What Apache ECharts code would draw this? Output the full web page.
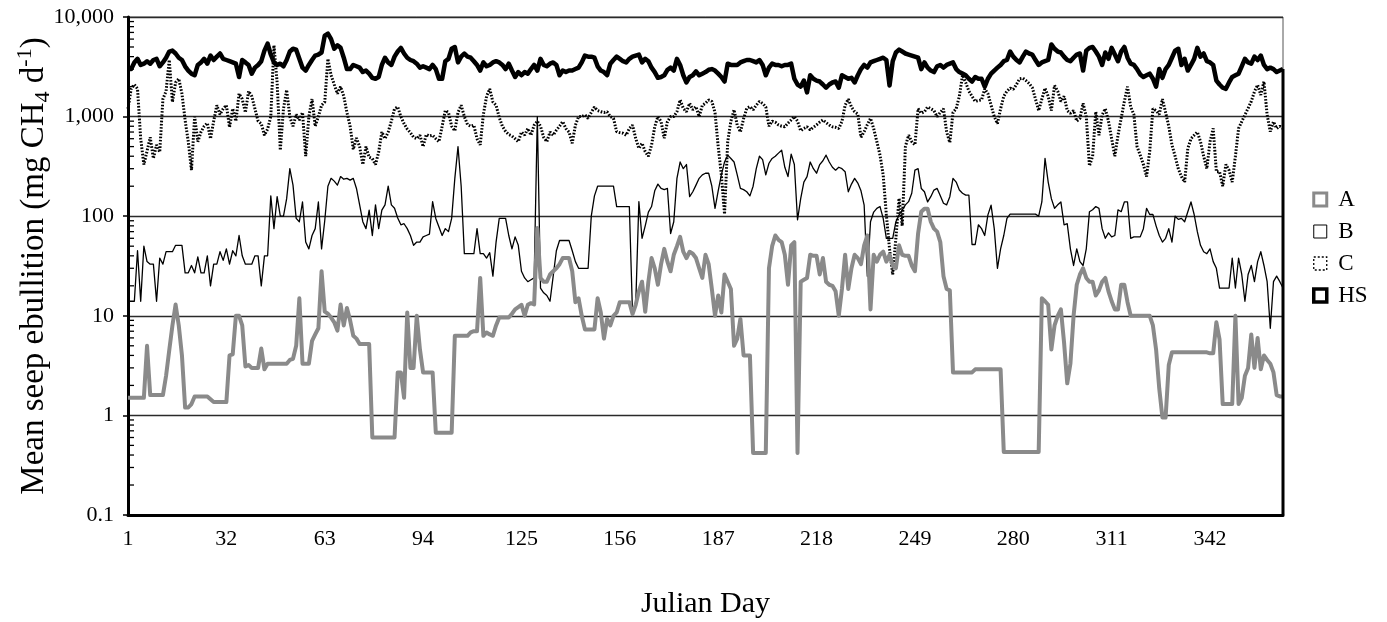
<!DOCTYPE html>
<html>
<head>
<meta charset="utf-8">
<script src="https://cdn.jsdelivr.net/npm/echarts@6/dist/echarts.min.js"></script>
<style>
  html, body { margin: 0; padding: 0; background: #fff; }
  #chart { width: 1387px; height: 622px; }
</style>
</head>
<body>
<div id="chart"></div>
<script>
// Daily mean seep ebullition (mg CH4 per day) for Julian days 1..365
const firstDay = 1;
const lastDay = 365;
const xTickDays = [1, 32, 63, 94, 125, 156, 187, 218, 249, 280, 311, 342];
const yTickLabels = ['0.1', '1', '10', '100', '1,000', '10,000'];
const minorTickValues = [
  0.2, 0.3, 0.4, 0.5, 0.6, 0.7, 0.8, 0.9,
  2, 3, 4, 5, 6, 7, 8, 9,
  20, 30, 40, 50, 60, 70, 80, 90,
  200, 300, 400, 500, 600, 700, 800, 900,
  2000, 3000, 4000, 5000, 6000, 7000, 8000, 9000
];
const seriesNames = ['A', 'B', 'C', 'HS'];

const seriesA = [
  1.5, 1.5, 1.5, 1.5, 1.5, 1.5, 5.0, 1.6, 1.6, 1.6,
  1.6, 1.6, 2.5, 4.5, 8, 13, 8, 4, 1.2, 1.2,
  1.3, 1.55, 1.55, 1.55, 1.55, 1.55, 1.45, 1.36, 1.36, 1.36,
  1.36, 1.36, 4.0, 4.1, 10, 10, 8, 3.1, 3.2, 3.0,
  3.0, 3.0, 4.7, 2.9, 3.3, 3.3, 3.3, 3.3, 3.3, 3.3,
  3.3, 3.6, 3.7, 5, 15, 3.3, 3.3, 3.3, 5.6, 6.5,
  7.5, 28, 11, 10.5, 9.6, 8.6, 7.1, 13, 8, 12,
  9, 6.3, 5.9, 5.2, 5.2, 5.2, 5.2, 0.6, 0.6, 0.6,
  0.6, 0.6, 0.6, 0.6, 0.6, 2.7, 2.7, 1.5, 10.8, 3.0,
  3.0, 10, 4.6, 2.7, 2.7, 2.7, 2.7, 0.67, 0.67, 0.67,
  0.67, 0.67, 0.67, 6.3, 6.3, 6.3, 6.3, 6.3, 6.8, 7,
  7, 24, 6.3, 6.8, 6.5, 6.3, 8, 9.6, 9.6, 9.6,
  9.6, 10.5, 11.6, 12.2, 12.9, 10, 12.9, 13.4, 13, 76,
  24, 22, 22, 26, 28, 30, 33, 38, 38, 38,
  28, 13.7, 15, 10, 7.3, 7.3, 7.3, 7.3, 15, 10.8,
  5.9, 9.3, 8, 10, 10.8, 13.7, 13.7, 13.7, 13.7, 10.4,
  12.9, 17.6, 22, 11, 22, 38, 30, 20.5, 33, 47,
  35, 28, 41, 50, 62, 44, 38, 44, 42, 38,
  30, 24, 41, 33, 18.6, 10, 16, 10.8, 26, 22,
  18.6, 5, 5.9, 9.3, 4, 4, 4, 0.42, 0.42, 0.42,
  0.42, 0.42, 30, 50, 64, 58, 55, 41, 20.5, 51,
  55, 0.42, 22, 23, 24, 41, 40, 40, 26, 38,
  22, 20.5, 20, 17.6, 10, 18.6, 41, 18.6, 30, 41,
  38, 33, 51, 64, 11.6, 41, 35, 41, 44, 35,
  41, 32, 30, 51, 41, 40, 40, 32, 28, 67,
  111, 119, 119, 88, 75, 70, 55, 25, 18.6, 18,
  2.7, 2.7, 2.7, 2.7, 2.7, 2.7, 2.7, 2.9, 2.9, 2.9,
  2.9, 2.9, 2.9, 2.9, 2.9, 2.9, 0.43, 0.43, 0.43, 0.43,
  0.43, 0.43, 0.43, 0.43, 0.43, 0.43, 0.43, 0.43, 15, 14,
  12.9, 4.6, 8, 10, 11.6, 5.4, 2.1, 3.3, 10, 20.5,
  26, 30, 24, 22, 22, 16, 18, 22, 24, 17.6,
  14, 11.6, 11.6, 20.5, 20.5, 13.7, 10, 10, 10, 10,
  10, 10, 10, 8, 4.6, 1.86, 0.95, 0.95, 3.2, 4.3,
  4.3, 4.3, 4.3, 4.3, 4.3, 4.3, 4.3, 4.3, 4.3, 4.3,
  4.3, 4.2, 4.2, 8.6, 5.8, 1.3, 1.3, 1.3, 1.3, 10,
  1.3, 1.5, 2.5, 3.0, 6.5, 3.0, 6, 2.9, 4, 3.6,
  3.3, 2.7, 1.6, 1.55, 1.55
];

const seriesB = [
  14, 14, 14, 45, 14, 50, 35, 33, 33, 14,
  38, 33, 44, 44, 44, 51, 51, 51, 27, 27,
  32, 27, 39, 27, 27, 40, 20, 33, 33, 44,
  36, 47, 33, 45, 40, 64, 40, 33, 33, 33,
  40, 40, 20, 40, 40, 160, 75, 157, 100, 100,
  150, 300, 205, 95, 88, 139, 55, 47, 64, 75,
  139, 47, 90, 200, 240, 225, 205, 250, 235, 240,
  230, 240, 190, 130, 88, 75, 115, 64, 130, 75,
  115, 130, 200, 130, 120, 96, 82, 84, 75, 64,
  51, 55, 55, 62, 64, 66, 140, 95, 78, 64,
  75, 70, 95, 240, 500, 200, 42, 42, 42, 42,
  75, 42, 42, 38, 43, 25, 55, 95, 95, 95,
  64, 47, 62, 51, 28, 24, 22, 23, 24, 1000,
  19, 17, 16, 14, 25, 45, 57, 57, 57, 57,
  45, 35, 30, 30, 30, 30, 100, 160, 200, 200,
  200, 200, 200, 200, 125, 125, 125, 125, 125, 10.5,
  12.6, 140, 60, 80, 110, 125, 180, 210, 190, 185,
  190, 67, 88, 240, 350, 300, 330, 157, 176, 205,
  240, 260, 270, 270, 200, 120, 180, 260, 350, 410,
  380, 350, 260, 190, 185, 176, 160, 200, 300, 400,
  370, 260, 340, 380, 400, 430, 460, 310, 250, 420,
  330, 92, 150, 220, 250, 350, 300, 270, 330, 360,
  410, 350, 310, 290, 310, 300, 280, 176, 210, 240,
  215, 180, 129, 25, 88, 110, 120, 125, 95, 60,
  60, 60, 88, 103, 115, 130, 140, 170, 290, 300,
  190, 176, 139, 157, 183, 190, 160, 135, 130, 157,
  240, 220, 183, 170, 163, 163, 52, 52, 82, 75,
  64, 103, 129, 75, 30, 47, 64, 95, 105, 105,
  105, 105, 105, 105, 105, 105, 105, 100, 139, 380,
  220, 150, 120, 130, 139, 82, 84, 47, 32, 47,
  35, 32, 47, 111, 116, 125, 120, 75, 60, 68,
  62, 64, 116, 111, 139, 139, 60, 62, 62, 62,
  75, 120, 104, 104, 80, 64, 55, 60, 75, 55,
  100, 93, 95, 88, 111, 139, 104, 70, 51, 44,
  42, 47, 35, 30, 19, 19, 19, 19, 38, 19,
  38, 26, 14, 26, 32, 22, 35, 44, 32, 22,
  7.5, 22, 25, 22, 19
];

const seriesC = [
  1200, 1900, 2100, 1900, 600, 330, 450, 620, 380, 520,
  440, 1500, 1800, 3700, 1400, 2200, 2400, 1700, 920, 560,
  290, 1000, 560, 700, 800, 860, 600, 900, 1300, 1050,
  1200, 1300, 780, 1200, 900, 1700, 1500, 1100, 1800, 1600,
  1200, 900, 850, 650, 750, 1000, 5200, 2200, 460, 1200,
  1850, 1000, 800, 1050, 920, 1100, 400, 1000, 1500, 800,
  1000, 1300, 1400, 3800, 2600, 2100, 1700, 2000, 1600, 1100,
  800, 470, 610, 500, 330, 500, 390, 380, 330, 440,
  700, 600, 700, 900, 1200, 1250, 1000, 850, 750, 690,
  620, 600, 650, 500, 660, 640, 650, 600, 560, 800,
  1150, 1100, 800, 720, 1100, 1300, 1000, 830, 800, 820,
  600, 520, 1050, 1600, 1900, 1400, 1300, 980, 800, 710,
  660, 640, 600, 560, 700, 650, 760, 650, 820, 900,
  800, 620, 560, 700, 650, 730, 800, 890, 760, 700,
  540, 820, 1000, 1000, 1040, 960, 1100, 1250, 1150, 1120,
  1100, 1120, 1000, 960, 706, 690, 680, 650, 760, 820,
  605, 480, 540, 445, 400, 518, 790, 1000, 890, 605,
  890, 1000, 1000, 1120, 1470, 1210, 1120, 1360, 1170, 1260,
  1000, 1300, 1360, 1470, 1420, 1100, 500, 260, 105, 560,
  900, 1170, 820, 700, 950, 1210, 1260, 1170, 1300, 1420,
  1360, 1250, 800, 900, 880, 824, 800, 790, 860, 925,
  1000, 900, 720, 760, 790, 735, 780, 824, 880, 925,
  870, 824, 790, 780, 760, 890, 1300, 1500, 1250, 1120,
  1060, 620, 706, 830, 960, 760, 560, 410, 258, 103,
  47, 26, 60, 151, 80, 500, 650, 560, 520, 1200,
  1080, 1120, 1250, 1200, 1150, 1000, 1100, 1200, 700, 550,
  1100, 1200, 1600, 2600, 2200, 1800, 1600, 1420, 1450, 1470,
  1900, 1700, 1300, 1000, 850, 1200, 1600, 1800, 1930, 1880,
  2100, 2400, 2430, 2300, 2150, 1950, 1500, 1150, 1500, 1930,
  1600, 1150, 2050, 1800, 1420, 1600, 1150, 1080, 1150, 900,
  960, 1360, 1000, 320, 400, 1120, 650, 1040, 1200, 900,
  600, 400, 650, 960, 1420, 2000, 1250, 1050, 500, 410,
  330, 250, 450, 1200, 1150, 1050, 1500, 1100, 800, 520,
  400, 300, 250, 220, 480, 600, 650, 700, 560, 400,
  300, 560, 760, 280, 280, 200, 330, 290, 220, 400,
  760, 890, 1040, 1210, 1420, 1780, 2080, 1650, 2250, 1040,
  706, 890, 760, 800, 760
];

const seriesHS = [
  3000, 3000, 3500, 3800, 3300, 3400, 3600, 3400, 3700, 3800,
  3200, 3500, 3900, 4500, 4600, 4300, 3900, 3700, 3200, 2900,
  2700, 2600, 3300, 3500, 3800, 3400, 4100, 3700, 4000, 4300,
  3800, 3700, 3600, 3500, 3400, 2500, 3700, 3500, 3300, 2700,
  3100, 3300, 3600, 4600, 5400, 4200, 3500, 3300, 3400, 3200,
  3700, 4500, 4800, 4700, 3800, 3100, 2900, 3300, 3700, 4100,
  4200, 4400, 6500, 6800, 6000, 4800, 5200, 4900, 3900, 3000,
  3000, 3300, 3200, 3100, 2800, 2900, 2700, 2450, 2400, 2500,
  3300, 3900, 3500, 3300, 4000, 4500, 4900, 4300, 3900, 3700,
  3600, 3400, 3100, 3200, 3100, 3000, 3300, 3000, 2400, 2400,
  3600, 3800, 4800, 5000, 3500, 4000, 4300, 4000, 3900, 3600,
  3300, 2900, 3500, 3200, 3300, 3500, 3600, 3500, 3300, 3000,
  3400, 2900, 2500, 2800, 2600, 2800, 2700, 3000, 3300, 2900,
  3800, 3300, 3200, 3400, 3500, 3300, 2600, 2900, 2800, 2900,
  2900, 3000, 3100, 3500, 4100, 4000, 4000, 3900, 3200, 2900,
  2800, 2600, 3400, 3700, 4000, 3800, 3600, 3500, 3800, 4000,
  4100, 4200, 3500, 3800, 3600, 3100, 2800, 2450, 2500, 2600,
  2950, 3100, 2900, 3800, 3300, 2600, 2200, 2500, 2600, 2850,
  2600, 2700, 2800, 2950, 3000, 2900, 2700, 2500, 2250, 3400,
  3300, 3300, 3300, 3500, 3600, 3700, 3700, 3600, 3500, 3700,
  3300, 2600, 3100, 3400, 3300, 3300, 3200, 3300, 3300, 3400,
  2400, 2100, 2000, 2300, 1750, 2600, 2400, 2300, 2250, 2100,
  1950, 2100, 2200, 2250, 1950, 2600, 2500, 2400, 2450, 2200,
  2600, 3000, 3300, 3100, 3500, 3600, 3700, 3800, 3900, 3700,
  2050, 3600, 4400, 4700, 4500, 4300, 4200, 4100, 4000, 3900,
  3000, 3500, 3100, 2900, 2800, 3200, 3300, 3100, 3300, 3400,
  3500, 3000, 2800, 2700, 2600, 2400, 2250, 2500, 2400, 2400,
  2000, 2400, 2700, 2900, 3100, 3300, 3600, 3700, 4500, 4000,
  3700, 3500, 4000, 4500, 4300, 4200, 3700, 3300, 3500, 3600,
  3700, 5300, 4800, 4500, 4400, 4000, 3700, 3600, 3900, 4200,
  4300, 2900, 4600, 4900, 5000, 4500, 4000, 3300, 4400, 3800,
  4900, 4200, 3600, 4500, 5000, 3900, 3400, 3300, 3000, 2650,
  2500, 2600, 2700, 2400, 2000, 3000, 2450, 3000, 3300, 3900,
  4600, 4800, 3300, 3800, 2900, 3300, 3800, 4900, 4000, 4300,
  3600, 3500, 3300, 2300, 2100, 1950, 1900, 2200, 2500, 2600,
  2700, 3200, 3800, 3500, 3400, 4000, 3700, 4100, 3300, 3000,
  3100, 3000, 2800, 2900, 3000
];

const serif = 'Liberation Serif';
const days = [];
for (let d = firstDay; d <= lastDay; d++) days.push(d);
const pairs = (values) => values.map((v, i) => [days[i], v]);

const chart = echarts.init(document.getElementById('chart'), null, { renderer: 'canvas' });

// square legend swatch, kept square inside a wider legend slot
const swatch = 'path://M0,0L10,0L10,10L0,10Z';

const option = {
  animation: false,
  backgroundColor: '#fff',
  grid: {
    left: 128, right: 104, top: 17, bottom: 107,
    outerBoundsMode: 'none', containLabel: false,
    show: true, borderColor: '#555', borderWidth: 1, backgroundColor: 'transparent'
  },
  legend: {
    orient: 'vertical',
    left: 1307, top: 183,
    itemWidth: 26, itemHeight: 13, itemGap: 9,
    selectedMode: false,
    textStyle: { fontFamily: serif, fontSize: 23, color: '#000' },
    data: [
      { name: 'A', icon: swatch, itemStyle: { color: '#fff', borderColor: '#8a8a8a', borderWidth: 3 } },
      { name: 'B', icon: swatch, itemStyle: { color: '#fff', borderColor: '#000', borderWidth: 1 } },
      { name: 'C', icon: swatch, itemStyle: { color: '#fff', borderColor: '#000', borderWidth: 1.3, borderType: [2, 2] } },
      { name: 'HS', icon: swatch, itemStyle: { color: '#fff', borderColor: '#000', borderWidth: 3.5 } }
    ]
  },
  xAxis: {
    type: 'value',
    min: firstDay, max: lastDay,
    axisLine: { show: true, onZero: false, lineStyle: { color: '#000', width: 3 } },
    axisTick: { show: false },
    splitLine: { show: false },
    axisLabel: {
      customValues: xTickDays,
      fontFamily: serif, fontSize: 22, color: '#000', margin: 13
    },
    name: 'Julian Day',
    nameLocation: 'middle',
    nameGap: 74,
    nameMoveOverlap: false,
    nameTextStyle: { fontFamily: serif, fontSize: 30, color: '#000' }
  },
  yAxis: {
    type: 'log', logBase: 10,
    min: 0.1, max: 10000,
    axisLine: { show: true, lineStyle: { color: '#000', width: 3 } },
    axisTick: { show: true, length: 5, lineStyle: { color: '#000', width: 1.5 } },
    splitLine: { show: true, lineStyle: { color: '#2a2a2a', width: 1.4 } },
    axisLabel: {
      fontFamily: serif, fontSize: 22, color: '#000', margin: 14,
      formatter: (v) => yTickLabels[Math.round(Math.log10(v)) + 1]
    },
    name: '{t|Mean seep ebullition (mg CH}{sub|4}{t| d}{sup|-1}{t|)}',
    nameLocation: 'middle',
    nameGap: 74,
    nameMoveOverlap: false,
    nameTextStyle: {
      fontFamily: serif, fontSize: 33, color: '#000',
      rich: {
        t: { fontFamily: serif, fontSize: 33, color: '#000', lineHeight: 40, verticalAlign: 'middle' },
        sub: { fontFamily: serif, fontSize: 22, color: '#000', lineHeight: 40, verticalAlign: 'bottom' },
        sup: { fontFamily: serif, fontSize: 22, color: '#000', lineHeight: 40, verticalAlign: 'top' }
      }
    }
  },
  series: [
    {
      name: 'A', type: 'line', data: pairs(seriesA), showSymbol: false, symbol: 'none',
      lineStyle: { color: '#8a8a8a', width: 4, join: 'round' }, itemStyle: { color: '#8a8a8a' }, z: 3
    },
    {
      name: 'B', type: 'line', data: pairs(seriesB), showSymbol: false, symbol: 'none',
      lineStyle: { color: '#000', width: 1.3, join: 'round' }, itemStyle: { color: '#000' }, z: 2
    },
    {
      name: 'C', type: 'line', data: pairs(seriesC), showSymbol: false, symbol: 'none',
      lineStyle: { color: '#000', width: 3, type: [1.6, 1.6] }, itemStyle: { color: '#000' }, z: 2
    },
    {
      name: 'HS', type: 'line', data: pairs(seriesHS), showSymbol: false, symbol: 'none',
      lineStyle: { color: '#000', width: 4.5, join: 'round' }, itemStyle: { color: '#000' }, z: 4
    },
    {
      // log-spaced minor ticks just inside the value axis
      type: 'custom', silent: true, z: 5,
      data: minorTickValues.map((v) => [firstDay, v]),
      encode: { x: 0, y: 1 },
      renderItem: (params, api) => {
        const p = api.coord([api.value(0), api.value(1)]);
        return {
          type: 'line',
          shape: { x1: p[0], y1: p[1], x2: p[0] + 6, y2: p[1] },
          style: { stroke: '#000', lineWidth: 1.3 }
        };
      }
    },
    {
      // drop line from the last HS value to the base of the plot
      type: 'custom', silent: true, z: 5,
      data: [[lastDay, seriesHS[seriesHS.length - 1]]],
      encode: { x: 0, y: 1 },
      renderItem: (params, api) => {
        const top = api.coord([api.value(0), api.value(1)]);
        const base = api.coord([api.value(0), 0.1]);
        return {
          type: 'line',
          shape: { x1: top[0], y1: top[1], x2: base[0], y2: base[1] },
          style: { stroke: '#000', lineWidth: 3 }
        };
      }
    }
  ]
};

chart.setOption(option);
</script>
</body>
</html>
